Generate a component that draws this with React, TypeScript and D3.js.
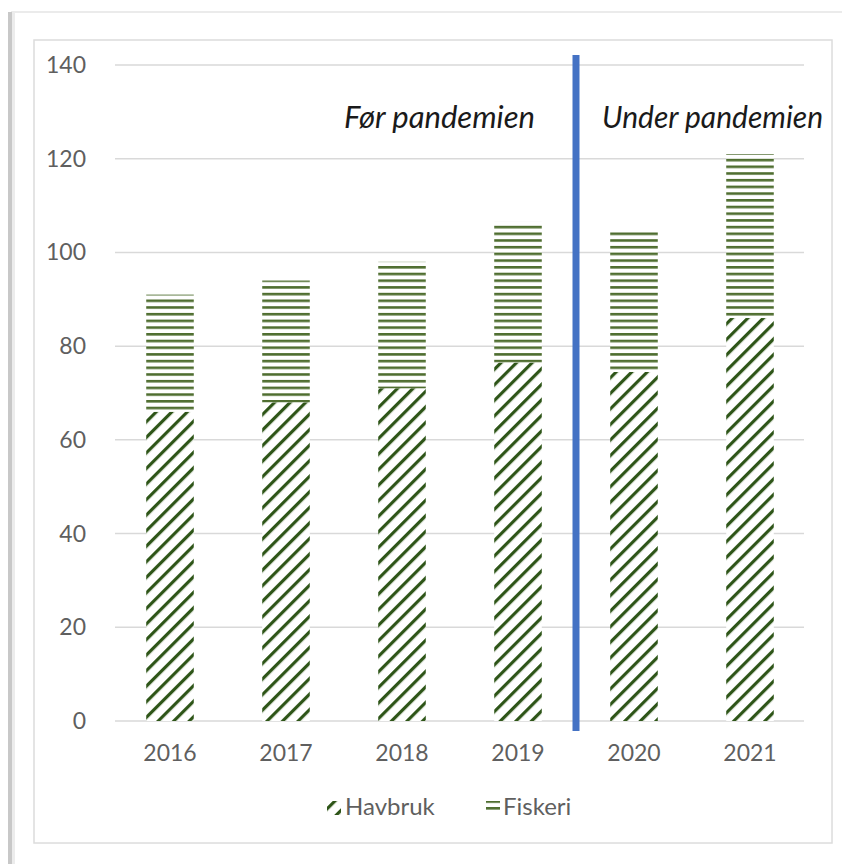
import React, { useEffect, useRef } from 'react';
import * as d3 from 'd3';

const years = ['2016', '2017', '2018', '2019', '2020', '2021'];
const havbruk = [66, 68, 71, 76.5, 74.5, 86];
const fiskeri = [25, 26, 27, 30, 30.5, 35];
const yTicks = [0, 20, 40, 60, 80, 100, 120, 140];

const App = () => {
    const svgRef = useRef<SVGSVGElement>(null);

    useEffect(() => {
        if (!svgRef.current) return;
        const svg = d3.select(svgRef.current);
        svg.selectAll("*").remove();

        const W = 842, H = 864;
        const font = "Lato, 'Open Sans', sans-serif";
        const margin = { top: 65, right: 34, bottom: 143, left: 112 };
        const innerWidth = W - margin.left - margin.right;
        const innerHeight = H - margin.top - margin.bottom;

        // Patterns
        const defs = svg.append("defs");
        const diag = defs.append("pattern")
            .attr("id", "pat-havbruk")
            .attr("patternUnits", "userSpaceOnUse")
            .attr("width", 11).attr("height", 11)
            .attr("patternTransform", "rotate(45)");
        diag.append("rect").attr("width", 11).attr("height", 11).attr("fill", "#fff");
        diag.append("rect").attr("x", 0).attr("width", 3.2).attr("height", 11).attr("fill", "#2e5518");

        const horiz = defs.append("pattern")
            .attr("id", "pat-fiskeri")
            .attr("patternUnits", "userSpaceOnUse")
            .attr("width", 8).attr("height", 6.7);
        horiz.append("rect").attr("width", 8).attr("height", 6.7).attr("fill", "#fff");
        horiz.append("rect").attr("y", 0).attr("width", 8).attr("height", 2.6).attr("fill", "#4f6e30");

        // Outer frame
        svg.append("rect").attr("width", W).attr("height", H).attr("fill", "#fff");
        svg.append("line").attr("x1", 11).attr("x2", W).attr("y1", 12).attr("y2", 12)
            .attr("stroke", "#e4e4e4").attr("stroke-width", 1.5);
        svg.append("rect").attr("x", 8).attr("y", 12).attr("width", 4).attr("height", H - 12)
            .attr("fill", "#c8c8c8");
        svg.append("rect").attr("x", 12).attr("y", 12).attr("width", 3).attr("height", H - 12)
            .attr("fill", "#ececec");
        // Inner chart box
        svg.append("rect").attr("x", 34).attr("y", 40).attr("width", 798).attr("height", 803)
            .attr("fill", "#fff").attr("stroke", "#dcdcdc").attr("stroke-width", 1.5);

        const g = svg.append("g").attr("transform", `translate(${margin.left},${margin.top})`);

        const x = d3.scaleBand().domain(years).range([0, innerWidth]).paddingInner(0.59).paddingOuter(0.295);
        const y = d3.scaleLinear().domain([0, 140]).range([innerHeight, 0]);

        // Gridlines
        g.selectAll("line.grid").data(yTicks).join("line")
            .attr("class", "grid")
            .attr("x1", 3).attr("x2", innerWidth - 4)
            .attr("y1", d => y(d)).attr("y2", d => y(d))
            .attr("stroke", "#d9d9d9").attr("stroke-width", 1.5);

        g.selectAll("text.ytick").data(yTicks).join("text")
            .attr("class", "ytick")
            .attr("x", -26).attr("y", d => y(d))
            .attr("dy", "0.35em")
            .attr("text-anchor", "end")
            .attr("font-family", font).attr("font-size", 23)
            .attr("fill", "#5f5f5f")
            .text(d => d);

        // Stacked bars
        const rows = years.map((yr, i) => ({ year: yr, Havbruk: havbruk[i], Fiskeri: fiskeri[i] }));
        const series = d3.stack<any>().keys(['Havbruk', 'Fiskeri'])(rows);
        const fills: Record<string, string> = { Havbruk: "url(#pat-havbruk)", Fiskeri: "url(#pat-fiskeri)" };

        g.selectAll("g.layer").data(series).join("g")
            .attr("class", "layer")
            .attr("fill", d => fills[d.key])
            .selectAll("rect").data(d => d).join("rect")
            .attr("x", d => x(d.data.year) || 0)
            .attr("width", x.bandwidth())
            .attr("y", d => y(d[1]))
            .attr("height", d => y(d[0]) - y(d[1]));

        // X labels
        g.selectAll("text.xtick").data(years).join("text")
            .attr("class", "xtick")
            .attr("x", d => (x(d) || 0) + x.bandwidth() / 2)
            .attr("y", innerHeight + 40)
            .attr("text-anchor", "middle")
            .attr("font-family", font).attr("font-size", 23)
            .attr("fill", "#5f5f5f")
            .text(d => d);

        // Pandemic divider
        const divX = ((x('2019') || 0) + x.bandwidth() + (x('2020') || 0)) / 2;
        g.append("rect")
            .attr("x", divX - 3.5).attr("width", 7)
            .attr("y", y(140) - 10).attr("height", innerHeight - y(140) + 20)
            .attr("fill", "#4472c4");

        g.append("text")
            .attr("x", divX - 41).attr("y", y(126.5))
            .attr("text-anchor", "end")
            .attr("font-family", font).attr("font-size", 31).attr("font-style", "italic")
            .attr("fill", "#1a1a1a")
            .text("Før pandemien");
        g.append("text")
            .attr("x", divX + 26).attr("y", y(126.5))
            .attr("text-anchor", "start")
            .attr("font-family", font).attr("font-size", 30).attr("font-style", "italic")
            .attr("fill", "#1a1a1a")
            .text("Under pandemien");

        // Legend
        const legend = svg.append("g").attr("transform", `translate(0, 807)`);
        legend.append("rect").attr("x", 327).attr("y", -6).attr("width", 14).attr("height", 14)
            .attr("fill", "url(#pat-havbruk)");
        legend.append("text").attr("x", 345).attr("y", 0).attr("dy", "0.35em")
            .attr("font-family", font).attr("font-size", 24).attr("fill", "#5f5f5f").text("Havbruk");
        legend.append("rect").attr("x", 486).attr("y", -6).attr("width", 14).attr("height", 12)
            .attr("fill", "url(#pat-fiskeri)");
        legend.append("text").attr("x", 503).attr("y", 0).attr("dy", "0.35em")
            .attr("font-family", font).attr("font-size", 24).attr("fill", "#5f5f5f").text("Fiskeri");
    }, []);

    return (
        <div style={{ position: 'absolute', left: 0, top: 0, width: 842, height: 864 }}>
            <svg ref={svgRef} width={842} height={864} style={{ display: 'block' }} />
        </div>
    );
};

export default App;
